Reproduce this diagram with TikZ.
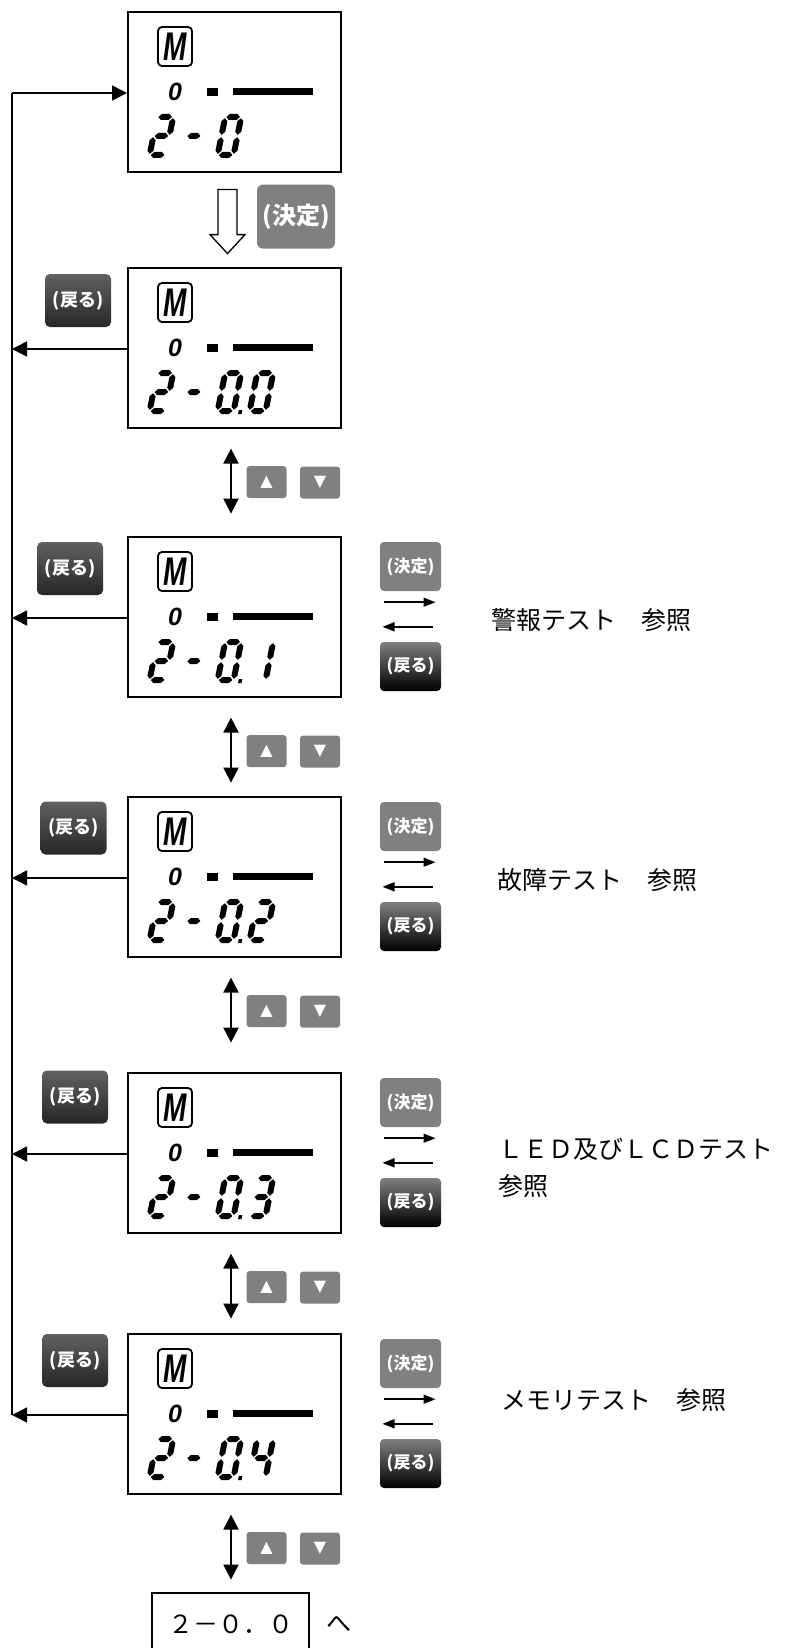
\documentclass[tikz,border=0pt]{standalone}
\usepackage{fontspec}
\usepackage{graphicx}
\setmainfont{Noto Sans CJK JP}
\newfontfamily\lcdfont{Liberation Sans}
\newfontfamily\symfont{DejaVu Sans}
\usepackage{tikz}
\usetikzlibrary{positioning, calc, arrows.meta}

% one segment of a seven segment digit (horizontal / vertical)
\newcommand{\hseg}[3]{%
    \fill ({#1},{#3}) -- ({#1+3},{#3-3}) -- ({#2-3},{#3-3}) -- ({#2},{#3}) -- ({#2-3},{#3+3}) -- ({#1+3},{#3+3}) -- cycle;}
\newcommand{\vseg}[3]{%
    \fill ({#1},{#2}) -- ({#1+3},{#2+3}) -- ({#1+3},{#3-3}) -- ({#1},{#3}) -- ({#1-3},{#3-3}) -- ({#1-3},{#2+3}) -- cycle;}
\newcommand{\dsega}{\hseg{4.2}{17.8}{-41}}
\newcommand{\dsegb}{\vseg{19}{-39.8}{-23.2}}
\newcommand{\dsegc}{\vseg{19}{-20.8}{-4.2}}
\newcommand{\dsegd}{\hseg{4.2}{17.8}{-3}}
\newcommand{\dsege}{\vseg{3}{-20.8}{-4.2}}
\newcommand{\dsegf}{\vseg{3}{-39.8}{-23.2}}
\newcommand{\dsegg}{\hseg{4.2}{17.8}{-22}}
\newcommand{\dsegm}{\hseg{0}{13}{-22}}
\newcommand{\dsegp}{\fill (24,0) rectangle (27.5,-4);}

\newcommand{\lcddigit}[2]{%
    \begin{scope}[shift={(#1)}, xslant=0.2]
        \foreach \s in {#2} {\csname dseg\s\endcsname}
    \end{scope}}

\newcommand{\lcdpanel}[4]{%
    \node[panel] (#1) at (#2) {};
    \begin{scope}[shift={(#1.north west)}]
        % Mode mark
        \node[modemark] at (48,35.5) {\scalebox{0.7}[1]{M}};
        % Upper row: 0 - bar
        \node[font=\lcdfont\bfseries\itshape\fontsize{25}{25}\selectfont, inner sep=0pt] at (48,81) {0};
        \fill (80,77) rectangle (91,85);
        \fill (106,77) rectangle (186,84);
        \coordinate (#1-in) at (0,82);
        % Lower row: 2 - digits
        \lcddigit{19,147}{a,b,g,e,d}
        \lcddigit{56,147}{m}
        \lcddigit{87,147}{#3}
        \lcddigit{119,147}{#4}
    \end{scope}
}

\begin{document}
\begin{tikzpicture}[
        x=1pt, y=-1pt,
        panel/.style={draw, line width=1.6pt, minimum width=213pt, minimum height=160pt, inner sep=0pt, anchor=north west},
        modemark/.style={draw, line width=1.8pt, rounded corners=4pt, minimum width=34pt, minimum height=39pt, inner sep=0pt,
            font=\lcdfont\bfseries\itshape\fontsize{40}{40}\selectfont},
        okbtn/.style={fill=black!50, rounded corners=4pt, text=white, minimum width=61pt, minimum height=49pt, inner sep=0pt,
            font=\bfseries\fontsize{17}{17}\selectfont},
        okbig/.style={okbtn, minimum width=78pt, minimum height=64pt, rounded corners=6pt, font=\bfseries\fontsize{24}{24}\selectfont},
        backbtn/.style={top color=black!62, bottom color=black!85, rounded corners=5pt, text=white, minimum width=66pt, minimum height=53pt,
            inner sep=0pt, font=\bfseries\fontsize{18}{18}\selectfont},
        backgloss/.style={top color=black!50, middle color=black!82, bottom color=black, rounded corners=4pt, text=white,
            minimum width=61pt, minimum height=49pt, inner sep=0pt, font=\bfseries\fontsize{17}{17}\selectfont},
        keybtn/.style={fill=black!50, rounded corners=3pt, text=white, minimum width=40pt, minimum height=32pt, inner sep=0pt,
            font=\symfont\fontsize{16}{16}\selectfont},
        desc/.style={anchor=west, inner sep=0pt, font=\fontsize{25}{37}\selectfont, align=left},
        railarr/.style={-{Triangle[length=15pt, width=15pt]}, line width=1.5pt},
        dblarr/.style={{Triangle[length=15pt, width=15pt]}-{Triangle[length=15pt, width=15pt]}, line width=2pt},
        smallarr/.style={-{Triangle[length=12pt, width=9pt]}, line width=1.5pt}
    ]
    \useasboundingbox (0,0) rectangle (787,1648);

    % =========================================================================
    % 1. LCD PANELS
    % =========================================================================
    \lcdpanel{P1}{127,11}{a,b,c,d,e,f}{}
    \lcdpanel{P2}{127,267}{a,b,c,d,e,f,p}{a,b,c,d,e,f}
    \lcdpanel{P3}{127,536}{a,b,c,d,e,f,p}{b,c}
    \lcdpanel{P4}{127,796}{a,b,c,d,e,f,p}{a,b,g,e,d}
    \lcdpanel{P5}{127,1072}{a,b,c,d,e,f,p}{a,b,g,c,d}
    \lcdpanel{P6}{127,1333}{a,b,c,d,e,f,p}{f,g,b,c}

    % =========================================================================
    % 2. ENTER STEP (P1 -> P2)
    % =========================================================================
    \draw[line width=1.3pt, fill=white] ($(P1.south west)+(91,17)$) -- ++(19,0) -- ++(0,45) -- ++(8,0)
        -- ++(-17.5,19) -- ++(-17.5,-19) -- ++(8,0) -- cycle;
    \node[okbig] (P1ok) at ($(P1.south west)+(169,44)$) {(決定)};

    % =========================================================================
    % 3. RETURN RAIL (left side)
    % =========================================================================
    \coordinate (railtop) at (12,93);
    \coordinate (railbot) at (12,1415);
    \draw[line width=1.5pt] (railtop) -- (railbot);
    \draw[railarr] (railtop) -- (railtop -| P1.west);
    \foreach \p in {P2,P3,P4,P5,P6} {
        \draw[railarr] (\p-in) -- (\p-in -| railtop);
    }
    \node[backbtn] (P2back) at (78,300.5) {(戻る)};
    \node[backbtn] (P3back) at (70,568.5) {(戻る)};
    \node[backbtn] (P4back) at (73.5,828) {(戻る)};
    \node[backbtn] (P5back) at (75,1097) {(戻る)};
    \node[backbtn] (P6back) at (75,1360.5) {(戻る)};

    % =========================================================================
    % 4. UP / DOWN STEPS
    % =========================================================================
    \foreach \p in {P2,P3,P4,P5,P6} {
        \draw[dblarr] ($(\p.south west)+(104,20)$) -- ($(\p.south west)+(104,85)$);
        \node[keybtn] (\p up) at ($(\p.south west)+(139.5,53.5)$) {▲};
        \node[keybtn] (\p down) at ($(\p.south west)+(193,54)$) {▼};
    }

    % =========================================================================
    % 5. TEST MENUS (right side)
    % =========================================================================
    \foreach \p in {P3,P4,P5,P6} {
        \node[okbtn] (\p ok) at ($(\p.north west)+(283.5,30.5)$) {(決定)};
        \node[backgloss] (\p gl) at ($(\p.north west)+(283.5,130.5)$) {(戻る)};
        \draw[smallarr] ($(\p ok.south)+(-27,11)$) -- ($(\p ok.south)+(25,11)$);
        \draw[smallarr] ($(\p gl.north)+(22,-15)$) -- ($(\p gl.north)+(-28,-15)$);
    }
    \node[desc] (alarm) at ($(P3.north east)+(150,84)$) {警報テスト　参照};
    \node[desc] (fault) at ($(P4.north east)+(156,84)$) {故障テスト　参照};
    \node[desc] (ledlcd) at ($(P5.north east)+(157,95.5)$) {ＬＥＤ及びＬＣＤテスト\\参照};
    \node[desc] (memory) at ($(P6.north east)+(160,67)$) {メモリテスト　参照};

    % =========================================================================
    % 6. BACK TO TOP
    % =========================================================================
    \node[draw, line width=1.5pt, minimum width=157pt, minimum height=64pt, anchor=north, inner sep=0pt,
        font=\fontsize{25}{25}\selectfont] (next) at (230.5,1592) {２－０．０};
    \node[right=17pt of next, inner sep=0pt, font=\fontsize{25}{25}\selectfont] (to) {へ};
\end{tikzpicture}
\end{document}
